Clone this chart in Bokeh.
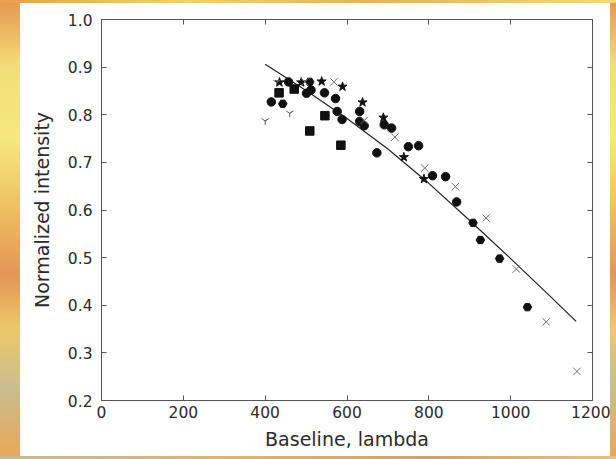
from bokeh.plotting import figure
from bokeh.models import Range1d, FixedTicker, PrintfTickFormatter, LinearAxis, Div
from bokeh.layouts import row, column
from bokeh.embed import file_html
from bokeh.resources import INLINE

# ---- data ----
x_ticks = [0, 200, 400, 600, 800, 1000, 1200]
y_ticks = [0.2, 0.3, 0.4, 0.5, 0.6, 0.7, 0.8, 0.9, 1.0]

circles_x = [415, 457, 501, 512, 545, 572, 576, 588, 631, 631, 642, 673, 691, 709, 750, 775, 809, 841, 868]
circles_y = [0.827, 0.869, 0.845, 0.852, 0.846, 0.834, 0.807, 0.790, 0.807, 0.786, 0.777, 0.720,
             0.779, 0.772, 0.733, 0.735, 0.672, 0.670, 0.617]
hex_x = [443, 509, 908, 926, 973, 1041]
hex_y = [0.823, 0.869, 0.573, 0.537, 0.498, 0.396]
squares_x = [434, 471, 509, 546, 585]
squares_y = [0.846, 0.854, 0.766, 0.798, 0.736]
stars_x = [435, 488, 538, 589, 638, 689, 739, 788]
stars_y = [0.868, 0.868, 0.870, 0.859, 0.826, 0.794, 0.711, 0.665]
cross_x = [497, 568, 642, 717, 790, 865, 940, 1014, 1087, 1162]
cross_y = [0.869, 0.869, 0.788, 0.753, 0.688, 0.649, 0.583, 0.476, 0.365, 0.261]
tri_x = [400, 428, 460]
tri_y = [0.787, 0.868, 0.803]

fit_x = [400, 500, 600, 700, 800, 900, 1000, 1100, 1160]
fit_y = [0.906, 0.851, 0.792, 0.728, 0.656, 0.578, 0.498, 0.416, 0.366]

FONT = "DejaVu Sans"
TXT = "#2b2b2b"
AX = "#555555"

p = figure(width=590, height=453, output_backend="svg", toolbar_location=None,
           x_range=Range1d(0, 1200), y_range=Range1d(0.2, 1.0),
           min_border_left=81, min_border_right=18, min_border_top=16, min_border_bottom=56)
p.grid.visible = False
p.background_fill_color = "white"
p.border_fill_color = "white"
p.outline_line_color = AX
p.outline_line_width = 1

def style_axis(ax, ticks, show_labels):
    ax.ticker = FixedTicker(ticks=ticks)
    ax.major_tick_in = 5
    ax.major_tick_out = 0
    ax.minor_tick_line_color = None
    ax.axis_line_color = AX
    ax.major_tick_line_color = AX
    ax.major_label_text_font = FONT
    if show_labels:
        ax.major_label_text_font_size = "15.5px"
        ax.major_label_text_color = TXT
    else:
        ax.major_label_text_font_size = "1px"
        ax.major_label_text_color = None
        ax.major_label_standoff = 0

style_axis(p.xaxis[0], x_ticks, True)
style_axis(p.yaxis[0], y_ticks, True)
p.yaxis[0].formatter = PrintfTickFormatter(format="%.1f")
p.xaxis[0].major_label_standoff = 5
p.yaxis[0].major_label_standoff = 9

p.xaxis[0].axis_label = "Baseline, lambda"
p.yaxis[0].axis_label = "Normalized intensity"
for ax in (p.xaxis[0], p.yaxis[0]):
    ax.axis_label_text_font = FONT
    ax.axis_label_text_font_size = "19px"
    ax.axis_label_text_font_style = "normal"
    ax.axis_label_text_color = TXT
p.xaxis[0].axis_label_standoff = 7
p.yaxis[0].axis_label_standoff = 12

top = LinearAxis()
style_axis(top, x_ticks, False)
p.add_layout(top, "above")
right = LinearAxis()
style_axis(right, y_ticks, False)
p.add_layout(right, "right")

# fit line
p.line(fit_x, fit_y, line_color="#222222", line_width=1.2)

# markers
p.scatter(circles_x, circles_y, marker="circle", size=8.5, fill_color="#111111", line_color="#111111")
p.scatter(hex_x, hex_y, marker="hex", size=8.5, fill_color="#111111", line_color="#111111")
p.scatter(squares_x, squares_y, marker="square", size=8.5, fill_color="#111111", line_color="#111111")
p.scatter(stars_x, stars_y, marker="star", size=9.5, fill_color="#111111", line_color="#111111")
p.scatter(cross_x, cross_y, marker="x", size=10.5, line_color="#6a6a6a", line_width=1)
p.scatter(tri_x, tri_y, marker="y", size=8, line_color="#606060", line_width=1)

V_GRAD = ("linear-gradient(180deg, #e59a52 0%, #f2de78 14%, #f5e87c 30%, #efc060 45%, "
          "#e39655 60%, #ecc86a 72%, #c9bd8f 85%, #e8a858 100%)")
H_GRAD_TOP = "linear-gradient(90deg, #e8a050 0%, #f0d070 30%, #eab060 60%, #f2d878 100%)"
H_GRAD_BOT = "linear-gradient(90deg, #c8b890 0%, #e8b060 40%, #d8a060 70%, #eec070 100%)"

top_strip = Div(text="", width=616, height=3, margin=0, styles={"background": H_GRAD_TOP})
left_strip = Div(text="", width=20, height=453, margin=0, styles={"background": V_GRAD})
right_strip = Div(text="", width=6, height=453, margin=0, styles={"background": V_GRAD})
bot_strip = Div(text="", width=616, height=3, margin=0, styles={"background": H_GRAD_BOT})

layout = column(top_strip, row(left_strip, p, right_strip, spacing=0), bot_strip, spacing=0)

open("out.html", "w").write(file_html(layout, INLINE))
